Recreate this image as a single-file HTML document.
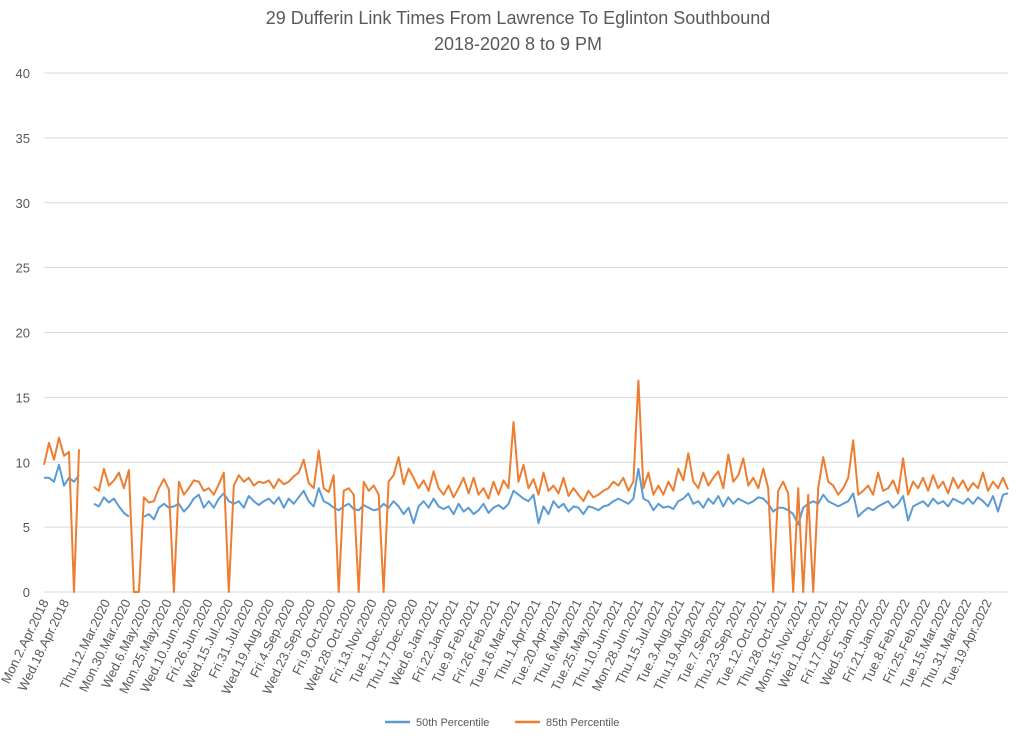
<!DOCTYPE html>
<html><head><meta charset="utf-8"><style>
body{margin:0;background:#fff;}
svg{display:block;font-family:"Liberation Sans",sans-serif;}
</style></head><body>
<svg id="chart" width="1024" height="741" viewBox="0 0 1024 741" xmlns="http://www.w3.org/2000/svg">
<text x="518" y="24" text-anchor="middle" font-size="18" fill="#595959">29 Dufferin Link Times From Lawrence To Eglinton Southbound</text>
<text x="518" y="50" text-anchor="middle" font-size="18" fill="#595959">2018-2020 8 to 9 PM</text>
<g id="grid"></g><g id="ylabels"></g><g id="xlabels"></g><g id="series"></g>
<g>
<line x1="385" y1="722" x2="410" y2="722" stroke="#5B9BD5" stroke-width="2.5"/>
<text x="416" y="726" font-size="11" fill="#595959">50th Percentile</text>
<line x1="515" y1="722" x2="540" y2="722" stroke="#ED7D31" stroke-width="2.5"/>
<text x="546" y="726" font-size="11" fill="#595959">85th Percentile</text>
</g>
</svg>
<script>
const yTicks=[0,5,10,15,20,25,30,35,40];
const xLabels=["Mon.2.Apr.2018","Wed.18.Apr.2018","","Thu.12.Mar.2020","Mon.30.Mar.2020","Wed.6.May.2020","Mon.25.May.2020","Wed.10.Jun.2020","Fri.26.Jun.2020","Wed.15.Jul.2020","Fri.31.Jul.2020","Wed.19.Aug.2020","Fri.4.Sep.2020","Wed.23.Sep.2020","Fri.9.Oct.2020","Wed.28.Oct.2020","Fri.13.Nov.2020","Tue.1.Dec.2020","Thu.17.Dec.2020","Wed.6.Jan.2021","Fri.22.Jan.2021","Tue.9.Feb.2021","Fri.26.Feb.2021","Tue.16.Mar.2021","Thu.1.Apr.2021","Tue.20.Apr.2021","Thu.6.May.2021","Tue.25.May.2021","Thu.10.Jun.2021","Mon.28.Jun.2021","Thu.15.Jul.2021","Tue.3.Aug.2021","Thu.19.Aug.2021","Tue.7.Sep.2021","Thu.23.Sep.2021","Tue.12.Oct.2021","Thu.28.Oct.2021","Mon.15.Nov.2021","Wed.1.Dec.2021","Fri.17.Dec.2021","Wed.5.Jan.2022","Fri.21.Jan.2022","Tue.8.Feb.2022","Fri.25.Feb.2022","Tue.15.Mar.2022","Thu.31.Mar.2022","Tue.19.Apr.2022"];
const p85=[9.8,11.5,10.2,11.9,10.5,10.8,0,11,null,null,
8.1,7.8,9.5,8.2,8.6,9.2,8.0,9.4,0,0,7.3,6.9,7.0,8.0,8.7,7.9,0,8.5,7.5,8.0,
8.6,8.5,7.8,8.0,7.5,8.3,9.2,0,8.2,9.0,8.5,8.8,8.2,8.5,8.4,8.6,8.0,8.7,8.3,8.5,
8.9,9.2,10.2,8.4,8.0,10.9,8.0,7.7,9.0,0,7.8,8.0,7.5,0,8.5,7.8,8.2,7.5,0,8.5,
9.0,10.4,8.3,9.5,8.8,8.0,8.6,7.8,9.3,8.0,7.5,8.2,7.3,8.0,8.8,7.6,8.8,7.5,8.0,7.2,
8.5,7.5,8.6,8.0,13.1,8.5,9.8,8.0,8.7,7.5,9.2,7.8,8.2,7.6,8.8,7.4,8.0,7.5,7.0,7.8,
7.3,7.5,7.8,8.0,8.5,8.2,8.8,7.8,8.5,16.3,8.0,9.2,7.5,8.2,7.5,8.5,7.8,9.5,8.6,10.7,
8.5,8.0,9.2,8.2,8.8,9.3,8.0,10.6,8.5,9.0,10.3,8.2,8.8,8.0,9.5,8.0,0,7.8,8.5,7.6,
0,8.0,0,7.5,0,8.0,10.4,8.5,8.2,7.5,8.0,8.8,11.7,7.5,7.8,8.2,7.5,9.2,7.8,8.0,
8.6,7.6,10.3,7.5,8.5,8.0,8.8,7.8,9.0,8.0,8.5,7.6,8.8,8.0,8.6,7.8,8.4,8.0,9.2,7.8,
8.5,8.0,8.8,7.9];
const p50=[8.8,8.8,8.5,9.8,8.2,8.8,8.5,9.0,null,null,
6.8,6.6,7.3,6.9,7.2,6.6,6.1,5.8,null,null,5.8,6.0,5.6,6.5,6.8,6.5,6.6,6.8,6.2,6.6,
7.2,7.5,6.5,7.0,6.5,7.2,7.6,7.0,6.8,7.0,6.5,7.4,7.0,6.7,7.0,7.2,6.8,7.3,6.5,7.2,
6.8,7.3,7.8,7.0,6.6,8.0,7.0,6.8,6.5,6.3,6.6,6.8,6.4,6.3,6.7,6.5,6.3,6.4,6.8,6.5,
7.0,6.6,6.0,6.5,5.3,6.6,7.0,6.5,7.2,6.6,6.4,6.6,6.0,6.8,6.2,6.5,6.0,6.3,6.8,6.1,
6.5,6.7,6.4,6.8,7.8,7.5,7.2,7.0,7.5,5.3,6.6,6.0,7.0,6.5,6.8,6.2,6.6,6.5,6.0,6.6,
6.5,6.3,6.6,6.7,7.0,7.2,7.0,6.8,7.2,9.5,7.2,7.0,6.3,6.8,6.5,6.6,6.4,7.0,7.2,7.6,
6.8,7.0,6.5,7.2,6.8,7.4,6.6,7.3,6.8,7.2,7.0,6.8,7.0,7.3,7.2,6.8,6.2,6.5,6.5,6.3,
6.0,5.2,6.5,6.8,7.0,6.8,7.5,7.0,6.8,6.6,6.8,7.0,7.6,5.8,6.2,6.5,6.3,6.6,6.8,7.0,
6.5,6.8,7.4,5.5,6.6,6.8,7.0,6.6,7.2,6.8,7.0,6.6,7.2,7.0,6.8,7.2,6.8,7.3,7.0,6.6,
7.4,6.2,7.5,7.6];
const NS="http://www.w3.org/2000/svg";
const X0=44,X1=1008,Y0=592,Y40=73;
function yScale(v){return Y0-(v/40)*(Y0-Y40);}
function xScale(i,n){return X0+i*(X1-X0)/(n-1);}
function mk(tag,attrs,parent){const e=document.createElementNS(NS,tag);for(const k in attrs)e.setAttribute(k,attrs[k]);parent.appendChild(e);return e;}
const grid=document.getElementById('grid'),yl=document.getElementById('ylabels'),xl=document.getElementById('xlabels'),ser=document.getElementById('series');
yTicks.forEach(t=>{
  const y=yScale(t);
  const ln=mk('line',{x1:X0,x2:X1,y1:y,y2:y,stroke:'#d9d9d9','stroke-width':1},grid);
  
  
  const tx=mk('text',{x:30,y:y+5,'text-anchor':'end','font-size':13,fill:'#595959'},yl);
  tx.textContent=t;
  
  
});
const step=(987-X0)/(xLabels.length-1);
xLabels.forEach((lab,i)=>{
  if(!lab)return;
  const x=X0+i*step+5,y=602;
  const tx=mk('text',{x:x,y:y,'text-anchor':'end','font-size':13,fill:'#595959',transform:`rotate(-64 ${x} ${y})`},xl);
  tx.textContent=lab;
  
  
});
function drawSeries(vals,color,name){
  let d='',pen=false;
  vals.forEach((v,i)=>{
    if(v===null){pen=false;return;}
    d+=(pen?'L':'M')+xScale(i,vals.length).toFixed(1)+' '+yScale(v).toFixed(1)+' ';pen=true;
  });
  const p=mk('path',{d:d,fill:'none',stroke:color,'stroke-width':2,'stroke-linejoin':'round'},ser);
  
  
}
drawSeries(p50,'#5B9BD5','series-50th-percentile');
drawSeries(p85,'#ED7D31','series-85th-percentile');
</script>
</body></html>
